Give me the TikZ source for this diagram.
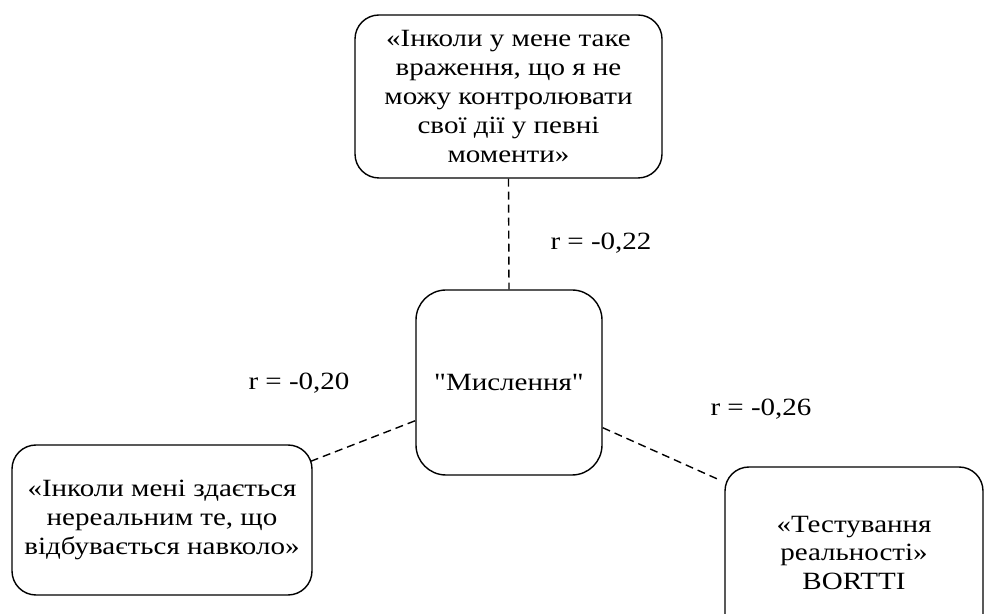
\documentclass[tikz,border=0pt]{standalone}
\usepackage{fontspec}
\newfontfamily\refserif{Liberation Serif}[FakeStretch=1.17]
\usetikzlibrary{calc}
\begin{document}
\begin{tikzpicture}[x=0.5pt,y=-0.5pt,
  box/.style={draw, line width=0.7pt, rounded corners=#1, inner sep=0pt, align=center,
    font=\refserif\fontsize{12.4}{14.4}\selectfont},
  box/.default=12pt,
  conn/.style={line width=0.7pt, dash pattern=on 4pt off 2.5pt},
  lbl/.style={font=\refserif\fontsize{12.4}{14.4}\selectfont, inner sep=0pt}]
\useasboundingbox (0,0) rectangle (986,614);
\node[box, minimum width=153.5pt, minimum height=81.5pt] (t) at (508.5,96.5)
  {«Інколи у мене таке\\враження, що я не\\можу контролювати\\свої дії у певні\\моменти»};
\node[box=15pt, minimum width=93pt, minimum height=92.5pt] (c) at (509,382.5) {"Мислення"};
\node[box, minimum width=150pt, minimum height=75pt] (l) at (162,520)
  {«Інколи мені здається\\нереальним те, що\\відбувається навколо»};
\node[box, minimum width=129pt, minimum height=86pt] (r) at (854,553)
  {«Тестування\\реальності»\\BORTTI};
\draw[conn] (t.south) -- (c.north);
\draw[conn] ($(l.north east)+(-2,17)$) -- ($(c.south west)+(0,-55)$);
\draw[conn] ($(c.south east)+(0,-48)$) -- ($(r.north west)+(-4,14)$);
\node[lbl] (la) at (601,243) {r = -0,22};
\node[lbl] (lb) at (299,383) {r = -0,20};
\node[lbl] (lc) at (761,409) {r = -0,26};
\end{tikzpicture}
\end{document}
